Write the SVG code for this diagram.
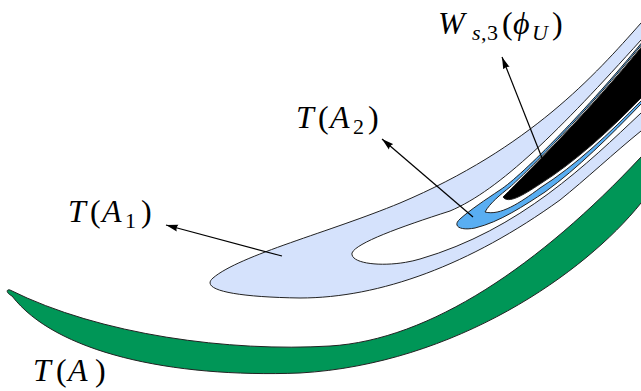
<svg xmlns="http://www.w3.org/2000/svg" width="641" height="391" viewBox="0 0 641 391">
<defs>
<marker id="ah" markerWidth="13" markerHeight="8" refX="12" refY="4" orient="auto" markerUnits="userSpaceOnUse">
<path d="M0,0.6 L12,4 L0,7.4 Q2,4 0,0.6 Z" fill="#000"/>
</marker>
</defs>
<style>
.edge{stroke:#222;stroke-width:1;stroke-linejoin:round}
.lbl{font-family:'Liberation Serif','Times New Roman','DejaVu Serif',serif;font-size:32px;fill:#000}
.it{font-style:italic}
.sub{font-size:22px}
.conn{stroke:#000;stroke-width:1.2;fill:none;marker-end:url(#ah)}
</style>
<rect width="641" height="391" fill="#fff"/>
<g id="TA">
<path class="edge" fill="#009657" d="M 10,290 C 100,335 230,352 330,346 C 430,340 540,265 641,157 L 660,136 L 660,182 L 641,203 C 585,273 455,364 300,373 C 170,378 55,352 12,296 C 6,293 6,289 10,290 Z"/>
<text class="lbl" y="381"><tspan class="it" x="33">T</tspan><tspan x="56">(</tspan><tspan class="it" x="68">A</tspan><tspan x="95">)</tspan></text>
</g>
<g id="TA1">
<path class="edge" fill="#d5e2fc" d="M 660,3 L 641,23 C 595,75 530,148 400,203 C 330,232 240,255 213,278 C 200,289 230,297 300,298 C 380,298 470,265 560,200 C 585,180 615,152 641,131 L 660,114 L 660,97 L 641,113 C 588,163 520,230 420,259 C 390,268 350,265 352,253 C 356,243 400,227 450,211 C 500,190 560,130 641,40 L 660,19 Z"/>
<text class="lbl" y="222"><tspan class="it" x="68">T</tspan><tspan x="90">(</tspan><tspan class="it" x="102">A</tspan><tspan class="sub" x="125" dy="6">1</tspan><tspan x="141" dy="-6">)</tspan></text>
</g>
<g id="TA2">
<path class="edge" fill="#59aef2" d="M 460,219 C 470,210 485,200 500,190 C 522,176 590,106 641,43.5 L 665,15 L 665,80 L 641,104 C 610,136 578,168 545,192 C 525,205 500,222 475,228 C 460,231 452,226 460,219 Z"/>
<path class="edge" fill="#fff" d="M 485,212 C 490,203 500,195 510,187 C 526,173 590,108 641,45.5 L 665,17 L 665,76 L 641,101 C 610,133 575,166 540,188 C 520,203 500,216 485,212 Z"/>
<text class="lbl" y="128"><tspan class="it" x="296">T</tspan><tspan x="318">(</tspan><tspan class="it" x="330">A</tspan><tspan class="sub" x="353" dy="6">2</tspan><tspan x="368" dy="-6">)</tspan></text>
</g>
<g id="W">
<path class="edge" fill="#000" d="M 503,197 C 530,170 590,110 641,47.5 L 665,20 L 665,72 L 641,98 C 610,130 575,162 540,184 C 522,196 508,204 503,197 Z"/>
<text class="lbl" y="34"><tspan class="it" x="438">W</tspan><tspan class="sub it" x="472" dy="6">s</tspan><tspan class="sub" x="481">,</tspan><tspan class="sub" x="487">3</tspan><tspan x="502" dy="-6">(</tspan><tspan class="it" x="513">ϕ</tspan><tspan class="sub it" x="532" dy="6">U</tspan><tspan x="552" dy="-6">)</tspan></text>
</g>
<g id="connectors">
<line class="conn" x1="282" y1="256" x2="166" y2="225"/>
<line class="conn" x1="473" y1="217" x2="382" y2="139"/>
<line class="conn" x1="542" y1="158" x2="502" y2="57"/>
</g>
</svg>
